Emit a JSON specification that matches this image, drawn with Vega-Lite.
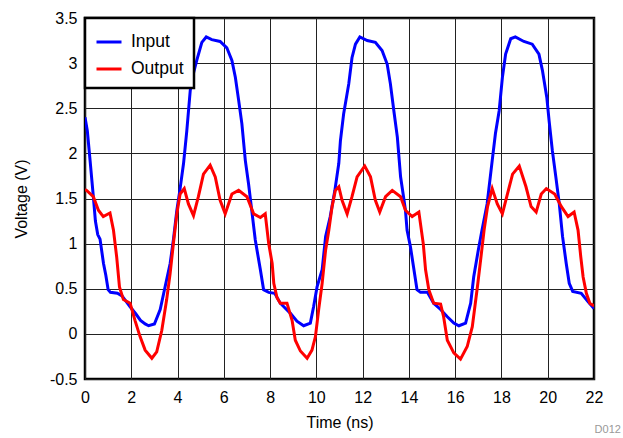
{
  "$schema": "https://vega.github.io/schema/vega-lite/v6.json",
  "autosize": "none",
  "width": 509,
  "height": 361,
  "padding": {"left": 85, "top": 18, "right": 29, "bottom": 59},
  "config": {
    "font": "Liberation Sans",
    "view": {"stroke": "#000", "strokeWidth": 2.5},
    "axis": {"labelFontSize": 16, "titleFontSize": 16, "labelColor": "#000", "titleColor": "#000", "titleFontWeight": "normal", "gridColor": "#222", "gridWidth": 1, "gridOpacity": 1, "domain": false, "ticks": false}
  },
  "title": {"text": "D012", "orient": "bottom", "anchor": "end", "fontSize": 11, "color": "#999", "fontWeight": "normal", "dx": 18, "dy": -6, "offset": 0, "limit": 200},
  "datasets": {
    "wave": [
      {"t":0,"v":2.4,"s":"Input"},{"t":0.1,"v":2.25,"s":"Input"},{"t":0.22,"v":1.92,"s":"Input"},{"t":0.35,"v":1.55,"s":"Input"},{"t":0.45,"v":1.25,"s":"Input"},{"t":0.55,"v":1.1,"s":"Input"},{"t":0.65,"v":1.05,"s":"Input"},{"t":0.8,"v":0.78,"s":"Input"},{"t":0.9,"v":0.65,"s":"Input"},{"t":1.0,"v":0.49,"s":"Input"},{"t":1.1,"v":0.46,"s":"Input"},{"t":1.4,"v":0.45,"s":"Input"},{"t":1.6,"v":0.42,"s":"Input"},{"t":1.95,"v":0.3,"s":"Input"},{"t":2.2,"v":0.22,"s":"Input"},{"t":2.4,"v":0.15,"s":"Input"},{"t":2.6,"v":0.11,"s":"Input"},{"t":2.75,"v":0.09,"s":"Input"},{"t":3.0,"v":0.11,"s":"Input"},{"t":3.25,"v":0.27,"s":"Input"},{"t":3.46,"v":0.52,"s":"Input"},{"t":3.68,"v":0.78,"s":"Input"},{"t":3.82,"v":1.04,"s":"Input"},{"t":3.97,"v":1.37,"s":"Input"},{"t":4.1,"v":1.59,"s":"Input"},{"t":4.26,"v":1.89,"s":"Input"},{"t":4.4,"v":2.25,"s":"Input"},{"t":4.55,"v":2.7,"s":"Input"},{"t":4.7,"v":2.9,"s":"Input"},{"t":4.83,"v":3.03,"s":"Input"},{"t":5.05,"v":3.23,"s":"Input"},{"t":5.24,"v":3.29,"s":"Input"},{"t":5.48,"v":3.26,"s":"Input"},{"t":5.84,"v":3.24,"s":"Input"},{"t":6.13,"v":3.17,"s":"Input"},{"t":6.35,"v":3.03,"s":"Input"},{"t":6.5,"v":2.84,"s":"Input"},{"t":6.64,"v":2.59,"s":"Input"},{"t":6.78,"v":2.33,"s":"Input"},{"t":6.93,"v":1.92,"s":"Input"},{"t":7.07,"v":1.66,"s":"Input"},{"t":7.22,"v":1.34,"s":"Input"},{"t":7.36,"v":1.04,"s":"Input"},{"t":7.58,"v":0.71,"s":"Input"},{"t":7.72,"v":0.49,"s":"Input"},{"t":7.94,"v":0.46,"s":"Input"},{"t":8.2,"v":0.45,"s":"Input"},{"t":8.44,"v":0.34,"s":"Input"},{"t":8.87,"v":0.23,"s":"Input"},{"t":9.16,"v":0.14,"s":"Input"},{"t":9.45,"v":0.09,"s":"Input"},{"t":9.74,"v":0.12,"s":"Input"},{"t":9.88,"v":0.3,"s":"Input"},{"t":10.03,"v":0.52,"s":"Input"},{"t":10.25,"v":0.71,"s":"Input"},{"t":10.4,"v":1.08,"s":"Input"},{"t":10.6,"v":1.3,"s":"Input"},{"t":10.8,"v":1.59,"s":"Input"},{"t":10.97,"v":1.89,"s":"Input"},{"t":11.04,"v":2.14,"s":"Input"},{"t":11.18,"v":2.44,"s":"Input"},{"t":11.4,"v":2.77,"s":"Input"},{"t":11.54,"v":3.06,"s":"Input"},{"t":11.69,"v":3.21,"s":"Input"},{"t":11.88,"v":3.29,"s":"Input"},{"t":12.2,"v":3.25,"s":"Input"},{"t":12.55,"v":3.23,"s":"Input"},{"t":12.84,"v":3.14,"s":"Input"},{"t":13.06,"v":2.99,"s":"Input"},{"t":13.2,"v":2.77,"s":"Input"},{"t":13.35,"v":2.47,"s":"Input"},{"t":13.5,"v":2.18,"s":"Input"},{"t":13.64,"v":1.74,"s":"Input"},{"t":13.75,"v":1.55,"s":"Input"},{"t":13.85,"v":1.37,"s":"Input"},{"t":13.92,"v":1.15,"s":"Input"},{"t":14.07,"v":0.96,"s":"Input"},{"t":14.2,"v":0.74,"s":"Input"},{"t":14.35,"v":0.49,"s":"Input"},{"t":14.5,"v":0.46,"s":"Input"},{"t":14.8,"v":0.46,"s":"Input"},{"t":15.07,"v":0.34,"s":"Input"},{"t":15.37,"v":0.27,"s":"Input"},{"t":15.66,"v":0.19,"s":"Input"},{"t":15.94,"v":0.12,"s":"Input"},{"t":16.16,"v":0.09,"s":"Input"},{"t":16.45,"v":0.12,"s":"Input"},{"t":16.67,"v":0.34,"s":"Input"},{"t":16.8,"v":0.63,"s":"Input"},{"t":17.0,"v":0.93,"s":"Input"},{"t":17.16,"v":1.15,"s":"Input"},{"t":17.38,"v":1.44,"s":"Input"},{"t":17.6,"v":1.92,"s":"Input"},{"t":17.74,"v":2.22,"s":"Input"},{"t":17.9,"v":2.47,"s":"Input"},{"t":18.04,"v":2.84,"s":"Input"},{"t":18.18,"v":3.1,"s":"Input"},{"t":18.4,"v":3.27,"s":"Input"},{"t":18.6,"v":3.29,"s":"Input"},{"t":18.97,"v":3.24,"s":"Input"},{"t":19.33,"v":3.21,"s":"Input"},{"t":19.62,"v":3.1,"s":"Input"},{"t":19.77,"v":2.92,"s":"Input"},{"t":19.96,"v":2.62,"s":"Input"},{"t":20.06,"v":2.36,"s":"Input"},{"t":20.2,"v":2.03,"s":"Input"},{"t":20.35,"v":1.74,"s":"Input"},{"t":20.5,"v":1.44,"s":"Input"},{"t":20.64,"v":1.08,"s":"Input"},{"t":20.8,"v":0.78,"s":"Input"},{"t":20.93,"v":0.56,"s":"Input"},{"t":21.08,"v":0.47,"s":"Input"},{"t":21.45,"v":0.45,"s":"Input"},{"t":21.73,"v":0.36,"s":"Input"},{"t":22,"v":0.28,"s":"Input"},
      {"t":0,"v":1.6,"s":"Output"},{"t":0.07,"v":1.59,"s":"Output"},{"t":0.36,"v":1.52,"s":"Output"},{"t":0.58,"v":1.37,"s":"Output"},{"t":0.79,"v":1.3,"s":"Output"},{"t":1.08,"v":1.34,"s":"Output"},{"t":1.23,"v":1.15,"s":"Output"},{"t":1.37,"v":0.85,"s":"Output"},{"t":1.49,"v":0.52,"s":"Output"},{"t":1.66,"v":0.38,"s":"Output"},{"t":1.95,"v":0.34,"s":"Output"},{"t":2.16,"v":0.15,"s":"Output"},{"t":2.38,"v":-0.03,"s":"Output"},{"t":2.6,"v":-0.18,"s":"Output"},{"t":2.89,"v":-0.27,"s":"Output"},{"t":3.1,"v":-0.2,"s":"Output"},{"t":3.32,"v":0.04,"s":"Output"},{"t":3.53,"v":0.38,"s":"Output"},{"t":3.68,"v":0.67,"s":"Output"},{"t":3.82,"v":1.0,"s":"Output"},{"t":3.97,"v":1.33,"s":"Output"},{"t":4.11,"v":1.55,"s":"Output"},{"t":4.29,"v":1.61,"s":"Output"},{"t":4.47,"v":1.44,"s":"Output"},{"t":4.69,"v":1.31,"s":"Output"},{"t":4.9,"v":1.52,"s":"Output"},{"t":5.12,"v":1.77,"s":"Output"},{"t":5.41,"v":1.87,"s":"Output"},{"t":5.63,"v":1.74,"s":"Output"},{"t":5.84,"v":1.48,"s":"Output"},{"t":6.06,"v":1.33,"s":"Output"},{"t":6.35,"v":1.55,"s":"Output"},{"t":6.64,"v":1.59,"s":"Output"},{"t":7.0,"v":1.52,"s":"Output"},{"t":7.29,"v":1.33,"s":"Output"},{"t":7.58,"v":1.29,"s":"Output"},{"t":7.79,"v":1.33,"s":"Output"},{"t":7.94,"v":1.0,"s":"Output"},{"t":8.09,"v":0.78,"s":"Output"},{"t":8.16,"v":0.56,"s":"Output"},{"t":8.3,"v":0.4,"s":"Output"},{"t":8.44,"v":0.34,"s":"Output"},{"t":8.73,"v":0.34,"s":"Output"},{"t":8.95,"v":0.15,"s":"Output"},{"t":9.09,"v":-0.07,"s":"Output"},{"t":9.31,"v":-0.19,"s":"Output"},{"t":9.6,"v":-0.27,"s":"Output"},{"t":9.81,"v":-0.18,"s":"Output"},{"t":9.96,"v":-0.03,"s":"Output"},{"t":10.1,"v":0.27,"s":"Output"},{"t":10.25,"v":0.56,"s":"Output"},{"t":10.4,"v":0.93,"s":"Output"},{"t":10.54,"v":1.15,"s":"Output"},{"t":10.68,"v":1.41,"s":"Output"},{"t":10.82,"v":1.59,"s":"Output"},{"t":10.97,"v":1.63,"s":"Output"},{"t":11.11,"v":1.48,"s":"Output"},{"t":11.33,"v":1.33,"s":"Output"},{"t":11.54,"v":1.52,"s":"Output"},{"t":11.76,"v":1.74,"s":"Output"},{"t":12.09,"v":1.86,"s":"Output"},{"t":12.34,"v":1.74,"s":"Output"},{"t":12.55,"v":1.48,"s":"Output"},{"t":12.74,"v":1.35,"s":"Output"},{"t":12.99,"v":1.52,"s":"Output"},{"t":13.28,"v":1.59,"s":"Output"},{"t":13.64,"v":1.52,"s":"Output"},{"t":13.85,"v":1.37,"s":"Output"},{"t":14.14,"v":1.3,"s":"Output"},{"t":14.43,"v":1.35,"s":"Output"},{"t":14.62,"v":1.0,"s":"Output"},{"t":14.72,"v":0.71,"s":"Output"},{"t":14.86,"v":0.49,"s":"Output"},{"t":15.07,"v":0.34,"s":"Output"},{"t":15.37,"v":0.33,"s":"Output"},{"t":15.5,"v":0.19,"s":"Output"},{"t":15.66,"v":-0.07,"s":"Output"},{"t":15.94,"v":-0.21,"s":"Output"},{"t":16.23,"v":-0.28,"s":"Output"},{"t":16.52,"v":-0.14,"s":"Output"},{"t":16.74,"v":0.08,"s":"Output"},{"t":16.96,"v":0.52,"s":"Output"},{"t":17.1,"v":0.82,"s":"Output"},{"t":17.25,"v":1.15,"s":"Output"},{"t":17.4,"v":1.41,"s":"Output"},{"t":17.6,"v":1.61,"s":"Output"},{"t":17.82,"v":1.44,"s":"Output"},{"t":18.04,"v":1.33,"s":"Output"},{"t":18.26,"v":1.55,"s":"Output"},{"t":18.48,"v":1.77,"s":"Output"},{"t":18.77,"v":1.86,"s":"Output"},{"t":19.06,"v":1.63,"s":"Output"},{"t":19.28,"v":1.41,"s":"Output"},{"t":19.5,"v":1.35,"s":"Output"},{"t":19.72,"v":1.55,"s":"Output"},{"t":19.94,"v":1.61,"s":"Output"},{"t":20.3,"v":1.55,"s":"Output"},{"t":20.59,"v":1.41,"s":"Output"},{"t":20.88,"v":1.3,"s":"Output"},{"t":21.14,"v":1.35,"s":"Output"},{"t":21.31,"v":1.15,"s":"Output"},{"t":21.43,"v":0.85,"s":"Output"},{"t":21.53,"v":0.63,"s":"Output"},{"t":21.67,"v":0.45,"s":"Output"},{"t":21.82,"v":0.34,"s":"Output"},{"t":22,"v":0.31,"s":"Output"}
    ]
  },
  "data": {"name": "wave"},
  "mark": {"type": "line", "strokeWidth": 3, "clip": true},
  "encoding": {
    "x": {"field": "t", "type": "quantitative", "title": "Time (ns)",
      "scale": {"domain": [0, 22], "nice": false},
      "axis": {"values": [0,2,4,6,8,10,12,14,16,18,20,22], "labelPadding": 10, "titlePadding": 9, "labelFlush": false}},
    "y": {"field": "v", "type": "quantitative", "title": "Voltage (V)",
      "scale": {"domain": [-0.5, 3.5], "nice": false, "zero": false},
      "axis": {"values": [-0.5,0,0.5,1,1.5,2,2.5,3,3.5], "labelExpr": "toString(datum.value)", "labelPadding": 8, "titlePadding": 20, "labelFlush": false}},
    "color": {"field": "s", "type": "nominal",
      "scale": {"domain": ["Input", "Output"], "range": ["#0000ff", "#ff0000"]},
      "legend": {"title": null, "orient": "top-left", "offset": 0, "labelFontSize": 17.5, "labelColor": "#000",
        "symbolType": "stroke", "symbolSize": 625, "symbolStrokeWidth": 3, "rowPadding": 4, "labelOffset": 8,
        "padding": 10, "fillColor": "#fff", "strokeColor": "#000",
        "encode": {"legend": {"update": {"strokeWidth": {"value": 2.5}}}}}}
  }
}
